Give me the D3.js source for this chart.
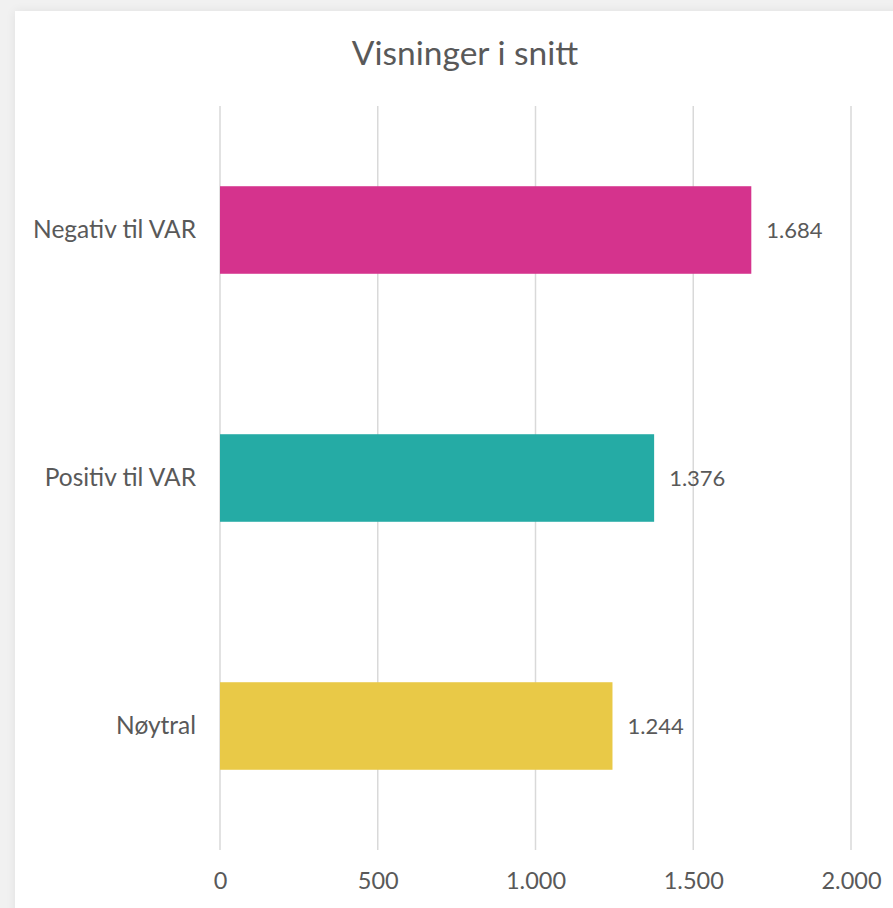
<!DOCTYPE html>
<html>
<head>
<meta charset="utf-8">
<script src="https://cdn.jsdelivr.net/npm/d3@7"></script>
<style>
  html, body { margin: 0; padding: 0; background: #f1f1f1; overflow: hidden; }
  #card {
    position: absolute; left: 15px; top: 11px; width: 900px; height: 920px;
    background: #ffffff; box-shadow: 0 0 10px rgba(0, 0, 0, 0.07);
  }
  #chart { position: absolute; left: 0; top: 0; }
</style>
</head>
<body>
<div id="card"></div>
<div id="chart"></div>
<script>
// data -----------------------------------------------------------------------
const categories = ['Negativ til VAR', 'Positiv til VAR', 'Nøytral'];
const values = [1684, 1376, 1244];
const barColors = ['#d5338d', '#25aba5', '#e9c947'];
const tickValues = [0, 500, 1000, 1500, 2000];
const title = 'Visninger i snitt';

// size -----------------------------------------------------------------------
const width = 893;
const height = 908;
const margin = { top: 106, bottom: 58, left: 220, right: 42 };
const textColor = '#595959';
const fontFamily = 'Lato, "DejaVu Sans", sans-serif';

// norsk tallformat (punktum som tusenskille)
const nb = d3.formatLocale({ decimal: ',', thousands: '.', grouping: [3], currency: ['kr ', ''] });
const fmt = nb.format(',d');

const svg = d3.select('#chart').append('svg')
  .attr('width', width)
  .attr('height', height);

// scales ---------------------------------------------------------------------
const xScale = d3.scaleLinear()
  .domain([0, 2000])
  .range([margin.left, width - margin.right]);

const yScale = d3.scaleBand()
  .domain(categories)
  .range([margin.top, height - margin.bottom])
  .paddingInner(0.647)
  .paddingOuter(0.3235);

// gridlines ------------------------------------------------------------------
svg.append('g')
  .selectAll('line')
  .data(tickValues)
  .enter()
  .append('line')
  .attr('x1', d => xScale(d))
  .attr('x2', d => xScale(d))
  .attr('y1', margin.top)
  .attr('y2', height - margin.bottom)
  .attr('stroke', '#d9d9d9')
  .attr('stroke-width', 1.5);

// x axis labels --------------------------------------------------------------
const xAxis = d3.axisBottom(xScale)
  .tickValues(tickValues)
  .tickFormat(fmt)
  .tickSize(0)
  .tickPadding(22);
const gx = svg.append('g')
  .attr('transform', 'translate(0,' + (height - margin.bottom) + ')')
  .call(xAxis);
gx.select('.domain').remove();
gx.selectAll('text')
  .attr('fill', textColor)
  .attr('font-family', fontFamily)
  .attr('font-size', '23.5px');

// y axis labels --------------------------------------------------------------
const yAxis = d3.axisLeft(yScale).tickSize(0).tickPadding(24);
const gy = svg.append('g')
  .attr('transform', 'translate(' + margin.left + ',0)')
  .call(yAxis);
gy.select('.domain').remove();
gy.selectAll('text')
  .attr('fill', textColor)
  .attr('font-family', fontFamily)
  .attr('font-size', '24.5px');

// bars -----------------------------------------------------------------------
svg.append('g')
  .selectAll('rect')
  .data(categories)
  .enter()
  .append('rect')
  .attr('x', xScale(0))
  .attr('y', d => yScale(d))
  .attr('width', (d, i) => xScale(values[i]) - xScale(0))
  .attr('height', yScale.bandwidth())
  .attr('fill', (d, i) => barColors[i]);

// value labels ---------------------------------------------------------------
svg.append('g')
  .selectAll('text')
  .data(categories)
  .enter()
  .append('text')
  .attr('x', (d, i) => xScale(values[i]) + 15)
  .attr('y', d => yScale(d) + yScale.bandwidth() / 2)
  .attr('dy', '0.35em')
  .attr('fill', textColor)
  .attr('font-family', fontFamily)
  .attr('font-size', '22px')
  .text((d, i) => fmt(values[i]));

// title ----------------------------------------------------------------------
svg.append('text')
  .attr('x', 465)
  .attr('y', 65)
  .attr('text-anchor', 'middle')
  .attr('fill', textColor)
  .attr('font-family', fontFamily)
  .attr('font-size', '33.5px')
  .text(title);
</script>
</body>
</html>
